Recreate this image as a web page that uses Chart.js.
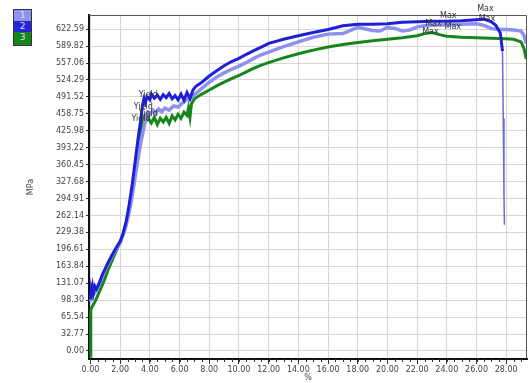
<!DOCTYPE html>
<html>
<head>
<meta charset="utf-8">
<script src="https://cdn.jsdelivr.net/npm/chart.js@4/dist/chart.umd.min.js"></script>
<style>
  body { margin: 0; background: #fff; }
  #wrap { position: relative; width: 530px; height: 383px; }
  #key { position: absolute; left: 13px; top: 9px; width: 17px; border: 1px solid #333;
         font: 9px "DejaVu Sans", sans-serif; color: #dde; text-align: center; }
  #key div { height: 11px; line-height: 11px; }
</style>
</head>
<body>
<div id="wrap">
  <canvas id="tensileChart" width="530" height="383"></canvas>
  <div id="key">
    <div style="background:#8f93ee">1</div>
    <div style="background:#2626d8">2</div>
    <div style="background:#17861a;height:13px">3</div>
  </div>
</div>
<script>
// tick labels
const xTicks = [0, 2, 4, 6, 8, 10, 12, 14, 16, 18, 20, 22, 24, 26, 28];
const yTicks = [0, 32.77, 65.54, 98.30, 131.07, 163.84, 196.61, 229.38, 262.14, 294.91, 327.68,
  360.45, 393.22, 425.98, 458.75, 491.52, 524.29, 557.06, 589.82, 622.59];

// specimen 1 (light blue)
const strain1 = [0, 0.1, 0.2, 0.4, 0.6, 0.8, 1.0, 1.2, 1.5, 1.8, 2.0, 2.2, 2.4, 2.6, 2.8, 3.0, 3.2, 3.4, 3.6, 3.75,
  3.85, 4.0, 4.2, 4.4, 4.6, 4.8, 5.0, 5.3, 5.6, 5.9, 6.2, 6.5, 6.8, 7.0, 7.5, 8.0, 8.5, 9.0, 9.5, 10.0,
  10.5, 11.0, 11.5, 12.0, 13.0, 14.0, 15.0, 16.0, 17.0, 18.0, 19.0, 19.5, 20.0, 20.5, 21.0, 21.5, 22.0, 22.5, 23.0, 24.0,
  25.0, 26.0, 26.5, 27.0, 27.5, 28.0, 28.5, 29.0, 29.2, 29.35];
const stress1 = [95, 105, 110, 118, 130, 145, 157, 170, 186, 200, 210, 224, 243, 268, 298, 335, 372, 405, 432, 455,
  462, 458, 466, 460, 468, 463, 470, 466, 474, 472, 480, 486, 490, 496, 508, 520, 530, 538, 545, 551,
  558, 566, 573, 578, 589, 598, 607, 613, 614, 626, 620, 619, 626, 624, 619, 621, 627, 629, 630, 631,
  632, 633, 630, 624, 622, 622, 621, 619, 610, 595];

// specimen 2 (blue)
const strain2 = [0, 0.05, 0.1, 0.15, 0.2, 0.3, 0.4, 0.6, 0.8, 1.0, 1.2, 1.5, 1.8, 2.0, 2.2, 2.4, 2.6, 2.8, 3.0, 3.2,
  3.4, 3.5, 3.6, 3.7, 3.8, 4.0, 4.1, 4.3, 4.5, 4.7, 4.9, 5.1, 5.3, 5.5, 5.7, 5.9, 6.1, 6.3, 6.5, 6.7,
  6.9, 7.1, 7.5, 8.0, 8.5, 9.0, 9.5, 10.0, 10.5, 11.0, 11.5, 12.0, 12.5, 13.0, 14.0, 15.0, 16.0, 17.0, 18.0, 19.0,
  20.0, 21.0, 22.0, 23.0, 24.0, 25.0, 26.0, 26.5, 27.0, 27.3, 27.6, 27.75, 27.8, 27.85, 27.88];
const stress2 = [100, 118, 110, 122, 112, 125, 120, 132, 148, 160, 172, 188, 203, 212, 228, 250, 282, 320, 365, 410,
  450, 475, 488, 480, 492, 486, 497, 489, 495, 487, 496, 490, 498, 488, 494, 486, 497, 485, 500, 488,
  505, 512, 520, 532, 542, 552, 560, 566, 574, 581, 588, 595, 599, 603, 610, 616, 622, 629, 632, 632,
  633, 636, 637, 638, 638, 639, 641, 642, 637, 630, 615, 580, 450, 300, 244];

// specimen 3 (green)
const strain3 = [0, 0.02, 0.1, 0.3, 0.5, 0.8, 1.0, 1.2, 1.5, 1.8, 2.0, 2.2, 2.4, 2.6, 2.8, 3.0, 3.2, 3.4, 3.5, 3.6,
  3.7, 3.9, 4.1, 4.3, 4.5, 4.7, 4.9, 5.1, 5.3, 5.5, 5.7, 5.9, 6.1, 6.3, 6.5, 6.6, 6.7, 6.8, 7.0, 7.5,
  8.0, 8.5, 9.0, 9.5, 10.0, 10.5, 11.0, 11.5, 12.0, 13.0, 14.0, 15.0, 16.0, 17.0, 18.0, 19.0, 20.0, 21.0, 22.0, 22.5,
  23.0, 23.5, 24.0, 25.0, 26.0, 27.0, 28.0, 28.5, 29.0, 29.2, 29.35];
const stress3 = [-10, 80, 85, 95, 108, 128, 142, 158, 178, 198, 210, 226, 248, 276, 310, 350, 392, 428, 445, 452,
  444, 450, 441, 452, 438, 450, 443, 452, 440, 455, 447, 458, 450, 462, 456, 470, 452, 478, 488, 497,
  505, 513, 520, 527, 533, 540, 547, 553, 558, 567, 575, 582, 588, 593, 597, 600, 603, 606, 610, 614,
  616, 612, 609, 607, 606, 605, 604, 603, 598, 585, 565];

// point annotations: [strain, stress, text]
const notes = [
  [3.9, 496, 'Yield'], [3.55, 473, 'Yield'], [3.9, 458, 'Yield'], [3.4, 448, 'Yield'],
  [24.1, 648, 'Max'], [26.6, 661, 'Max'], [26.7, 642, 'Max'],
  [23.1, 632, 'Max'], [24.4, 626, 'Max'], [22.9, 617, 'Max']
];

const pts = (xs, ys) => xs.map((x, i) => ({ x: x, y: ys[i] }));

const extras = {
  id: 'extras',
  afterDraw(chart) {
    const c = chart.ctx, a = chart.chartArea, sx = chart.scales.x, sy = chart.scales.y;
    c.save();
    // frame top / right
    c.strokeStyle = '#555';
    c.lineWidth = 1;
    c.beginPath();
    c.moveTo(a.left, a.top + 0.5); c.lineTo(a.right - 0.5, a.top + 0.5); c.lineTo(a.right - 0.5, a.bottom);
    c.stroke();
    // minor ticks on x axis
    c.strokeStyle = '#333';
    c.beginPath();
    for (let v = 0; v <= 29.4; v += 0.5) {
      const px = Math.round(sx.getPixelForValue(v)) + 0.5;
      c.moveTo(px, a.bottom); c.lineTo(px, a.bottom + 3);
    }
    c.stroke();
    // annotations
    c.fillStyle = '#333';
    c.font = '8px "DejaVu Sans"';
    c.textAlign = 'center';
    c.textBaseline = 'middle';
    notes.forEach(n => c.fillText(n[2], sx.getPixelForValue(n[0]), sy.getPixelForValue(n[1])));
    // axis titles
    c.fillStyle = '#444';
    c.fillText('%', (a.left + a.right) / 2, 378);
    c.translate(31, (a.top + a.bottom) / 2);
    c.rotate(-Math.PI / 2);
    c.fillText('MPa', 0, 0);
    c.restore();
  }
};

const tickFont = { family: 'DejaVu Sans', size: 8 };

new Chart(document.getElementById('tensileChart').getContext('2d'), {
  type: 'line',
  data: {
    datasets: [
      { label: '2', data: pts(strain2, stress2), borderColor: '#1f1fd6', borderWidth: 3,
        // the fracture drop is a thin trace
        segment: { borderWidth: ctx => ctx.p0.parsed.x >= 27.75 ? 1.5 : undefined,
                   borderColor: ctx => ctx.p0.parsed.x >= 27.75 ? '#6a6ad8' : undefined } },
      { label: '1', data: pts(strain1, stress1), borderColor: '#8c90ee', borderWidth: 3.5 },
      { label: '3', data: pts(strain3, stress3), borderColor: '#17861a', borderWidth: 3 }
    ]
  },
  options: {
    responsive: false,
    animation: false,
    layout: { padding: { left: 22, right: 3, top: 15, bottom: 0 } },
    elements: { point: { radius: 0 }, line: { tension: 0 } },
    plugins: { legend: { display: false }, tooltip: { enabled: false } },
    scales: {
      x: {
        type: 'linear', min: -0.1, max: 29.4,
        afterBuildTicks: s => { s.ticks = xTicks.map(v => ({ value: v })); },
        afterFit: s => { s.height = 24; },
        ticks: { font: tickFont, color: '#444', maxRotation: 0, autoSkip: false, padding: 1,
                 callback: v => v.toFixed(2) },
        grid: { color: '#d6d6d6', tickLength: 5, tickColor: '#333' },
        border: { color: '#111', width: 2 }
      },
      y: {
        min: -15.5, max: 650,
        afterBuildTicks: s => { s.ticks = yTicks.map(v => ({ value: v })); },
        afterFit: s => { s.width = 67; },
        ticks: { font: tickFont, color: '#444', autoSkip: false, padding: 2,
                 callback: v => v.toFixed(2) },
        grid: { color: '#d6d6d6', tickLength: 3, tickColor: '#333' },
        border: { color: '#111', width: 2 }
      }
    }
  },
  plugins: [extras]
});
</script>
</body>
</html>
